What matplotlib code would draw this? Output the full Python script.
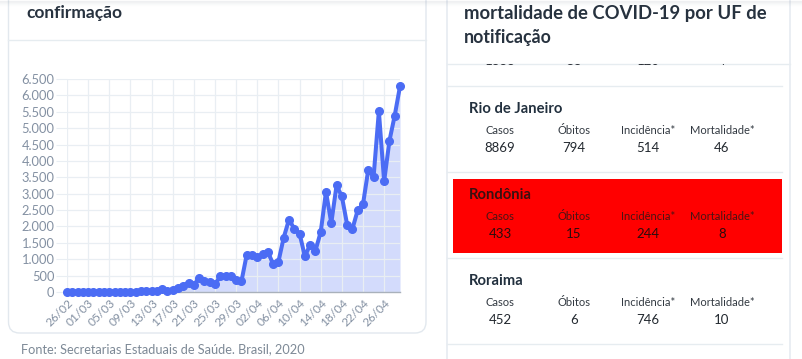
import matplotlib.pyplot as plt
import numpy as np
from matplotlib.patches import FancyBboxPatch, Rectangle

plt.rcParams["font.family"] = ["Lato", "DejaVu Sans"]

# casos novos por data de confirmação, 26/02 .. 29/04
cases = [
    1, 0, 0, 1, 0, 0, 0, 1, 4, 6, 6, 6, 0, 6, 18, 25, 21, 23, 79, 34,
    57, 137, 193, 283, 224, 418, 345, 310, 232, 482, 502, 487, 352, 323, 1138, 1119,
    1074, 1146, 1222, 852, 926, 1661, 2210, 1930, 1781, 1089, 1442, 1261, 1832, 3058,
    2105, 3257, 2917, 2055, 1927, 2498, 2678, 3735, 3503, 5514, 3379, 4613, 5385, 6276,
]
tick_labels = ["26/02", "01/03", "05/03", "09/03", "13/03", "17/03", "21/03", "25/03",
               "29/03", "02/04", "06/04", "10/04", "14/04", "18/04", "22/04", "26/04"]
y_ticks = [0, 500, 1000, 1500, 2000, 2500, 3000, 3500, 4000, 4500, 5000, 5500, 6000, 6500]

col_names = ["Casos", "Óbitos", "Incidência*", "Mortalidade*"]
cut_row = ["1888", "58", "120", "4"]
states = ["Rio de Janeiro", "Rondônia", "Roraima"]
state_values = [["8869", "794", "514", "46"],
                ["433", "15", "244", "8"],
                ["452", "6", "746", "10"]]

W, H = 803, 359
fig = plt.figure(figsize=(W / 100, H / 100), dpi=100)
fig.patch.set_facecolor("white")

bg = fig.add_axes([0, 0, 1, 1])
bg.set_xlim(0, W)
bg.set_ylim(H, 0)
bg.axis("off")

border = "#e2e8ee"
title_c = "#27323f"
# cards
bg.add_patch(FancyBboxPatch((8.5, -20), 417.5, 353, boxstyle="round,pad=0,rounding_size=11",
                            fc="white", ec=border, lw=1))
bg.add_patch(FancyBboxPatch((447, -20), 343, 400, boxstyle="round,pad=0,rounding_size=11",
                            fc="white", ec=border, lw=1))
# top shadow
for i, a in enumerate([0.10, 0.07, 0.045, 0.025, 0.012]):
    bg.plot([0, W], [i + 0.5, i + 0.5], color="#7a8794", alpha=a, lw=1)

bg.text(26, 13, "confirmação", fontsize=12.5, fontweight="bold", color=title_c, va="center")
bg.plot([8.5, 426], [39.5, 39.5], color="#e6ecf0", lw=1)
bg.text(21, 349, "Fonte: Secretarias Estaduais de Saúde. Brasil, 2020", fontsize=9.2,
        color="#7d8996", va="center")

bg.text(464, 13, "mortalidade de COVID-19 por UF de", fontsize=13.3, fontweight="bold",
        color=title_c, va="center")
bg.text(464, 37, "notificação", fontsize=12.8, fontweight="bold", color=title_c, va="center")
bg.plot([447, 790], [63.5, 63.5], color="#e6ecf0", lw=1)

cols_x = [500, 574, 648, 722]
clip = Rectangle((447, 64), 343, 20, transform=bg.transData)
for cx, v in zip(cols_x, cut_row):
    t = bg.text(cx, 61, v, fontsize=9.5, color="#2b2f36", ha="center", va="center",
                clip_on=True)
    t.set_clip_path(clip)

for y in [85.7, 172.3, 258.3, 344]:
    bg.plot([447, 782], [y, y], color="#e6ecf0", lw=1)

bg.add_patch(Rectangle((452.7, 179), 329.3, 74.3, fc="#ff0000", ec="none"))

row_y = [109, 195, 281]
for i, (name, vals, ry) in enumerate(zip(states, state_values, row_y)):
    red = i == 1
    name_c = "#3a1010" if red else "#22303e"
    lab_c = "#4a1414" if red else "#333a42"
    val_c = "#2a0d0d" if red else "#22282f"
    bg.text(469, ry, name, fontsize=10.6, fontweight="bold", color=name_c, va="center")
    for cx, lab, v in zip(cols_x, col_names, vals):
        bg.text(cx, ry + 22, lab, fontsize=8, color=lab_c, ha="center", va="center")
        bg.text(cx, ry + 39.5, v, fontsize=9.5, color=val_c, ha="center", va="center")

# chart
x0, x1, y0, y1 = 67, 400, 79, 292
ax = fig.add_axes([x0 / W, 1 - y1 / H, (x1 - x0) / W, (y1 - y0) / H])
ax.set_facecolor("none")
x = np.arange(len(cases))
line_c = "#4b6cf4"
ax.fill_between(x, cases, 0, color="#d3dbfc", lw=0, zorder=1)
ax.plot(x, cases, color=line_c, lw=2.9, marker="o", ms=5.5, mfc=line_c, mec=line_c,
        zorder=3, clip_on=False)
ax.set_xlim(0, len(cases) - 1)
ax.set_ylim(0, 6500)
ax.set_yticks(y_ticks)
ax.set_yticklabels([f"{v:,}".replace(",", ".") for v in y_ticks])
ticks_x = np.arange(0, len(cases), 4)[:len(tick_labels)]
ax.set_xticks(ticks_x)
ax.set_xticklabels(tick_labels, rotation=45, ha="right", rotation_mode="anchor")
ax.grid(True, color="#e9eef3", lw=0.9, zorder=0)
for s in ["top", "right", "left"]:
    ax.spines[s].set_visible(False)
ax.spines["bottom"].set_color("#a9b1bb")
ax.spines["bottom"].set_linewidth(1)
ax.tick_params(axis="y", length=8, color="#e9eef3", labelsize=9.3, labelcolor="#8390a2", pad=1)
ax.tick_params(axis="x", length=0, labelsize=8.6, labelcolor="#8390a2", pad=4)

fig.savefig("out.png", dpi=100)
